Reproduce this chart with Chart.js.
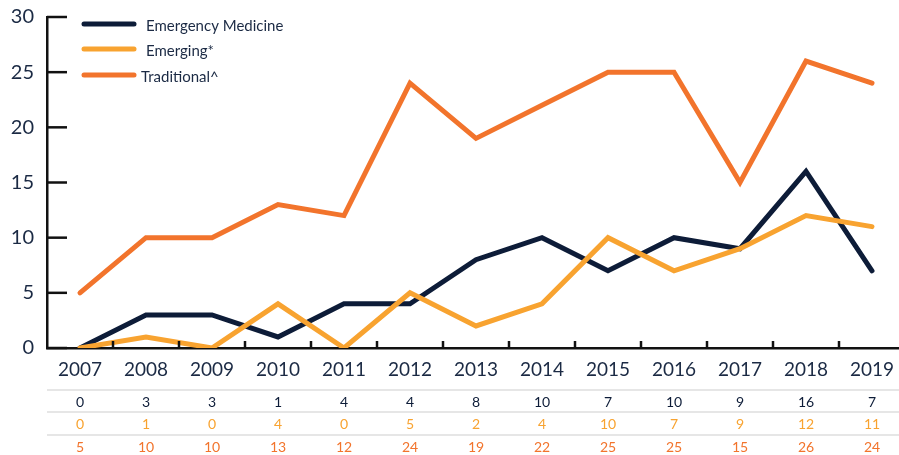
<!DOCTYPE html>
<html>
<head>
<meta charset="utf-8">
<script src="https://cdn.jsdelivr.net/npm/chart.js@4"></script>
<style>
  html, body { margin: 0; padding: 0; background: #fff; overflow: hidden; }
  #wrap { width: 905px; height: 455px; }
</style>
</head>
<body>
<div id="wrap"><canvas id="myChart" width="905" height="455"></canvas></div>
<script>
var years = ['2007', '2008', '2009', '2010', '2011', '2012', '2013', '2014', '2015', '2016', '2017', '2018', '2019']
var emergencyMedicine = [0, 3, 3, 1, 4, 4, 8, 10, 7, 10, 9, 16, 7]
var emerging = [0, 1, 0, 4, 0, 5, 2, 4, 10, 7, 9, 12, 11]
var traditional = [5, 10, 10, 13, 12, 24, 19, 22, 25, 25, 15, 26, 24]
var yTicks = [0, 5, 10, 15, 20, 25, 30]

var navy = '#0d1c38'
var yellow = '#f8a330'
var orange = '#f2742c'
var textColor = '#1b2a44'
var fontFamily = 'Lato, "Open Sans", sans-serif'

// ticks drawn inward, data table and legend
var extras = {
    id: 'extras',
    afterDraw: function(chart) {
        var ctx = chart.ctx
        var xs = chart.scales.x
        var ys = chart.scales.y
        var area = chart.chartArea
        ctx.save()
        ctx.strokeStyle = '#111'
        ctx.lineWidth = 2.5
        // y ticks pointing right
        yTicks.forEach(function(v) {
            var py = ys.getPixelForValue(v)
            ctx.beginPath()
            ctx.moveTo(area.left, py)
            ctx.lineTo(area.left + 20, py)
            ctx.stroke()
        })
        // x ticks between categories pointing up
        for (var i = 1; i < years.length; i++) {
            var px = (xs.getPixelForValue(i - 1) + xs.getPixelForValue(i)) / 2
            ctx.beginPath()
            ctx.moveTo(px, area.bottom)
            ctx.lineTo(px, area.bottom - 7)
            ctx.stroke()
        }

        // table separators
        ctx.strokeStyle = '#e6e6e6'
        ctx.lineWidth = 2;
        [390, 412, 435].forEach(function(y) {
            ctx.beginPath()
            ctx.moveTo(area.left, y)
            ctx.lineTo(chart.width, y)
            ctx.stroke()
        })

        // table values
        var rows = [
            {data: emergencyMedicine, color: navy, y: 402},
            {data: emerging, color: yellow, y: 424},
            {data: traditional, color: orange, y: 447}
        ]
        ctx.font = '14px ' + fontFamily
        ctx.textAlign = 'center'
        ctx.textBaseline = 'middle'
        rows.forEach(function(r) {
            ctx.fillStyle = r.color
            r.data.forEach(function(v, i) {
                ctx.fillText(String(v), xs.getPixelForValue(i), r.y)
            })
        })

        // legend
        var legend = [
            {label: chart.data.datasets[2].label, color: navy, y: 24, tx: 146},
            {label: chart.data.datasets[1].label, color: yellow, y: 49, tx: 146},
            {label: chart.data.datasets[0].label, color: orange, y: 75, tx: 141}
        ]
        ctx.lineCap = 'round'
        ctx.lineWidth = 5
        ctx.font = '15px ' + fontFamily
        ctx.textAlign = 'left'
        legend.forEach(function(l) {
            ctx.strokeStyle = l.color
            ctx.beginPath()
            ctx.moveTo(84, l.y)
            ctx.lineTo(134, l.y)
            ctx.stroke()
            ctx.fillStyle = textColor
            ctx.fillText(l.label, l.tx, l.y + 2)
        })
        ctx.restore()
    }
}

var ctx = document.getElementById('myChart').getContext('2d')

var myChart = new Chart(ctx, {
    type: 'line',
    data: {
        labels: years,
        datasets: [
            {label: 'Traditional^', data: traditional, borderColor: orange},
            {label: 'Emerging*', data: emerging, borderColor: yellow},
            {label: 'Emergency Medicine', data: emergencyMedicine, borderColor: navy}
        ]
    },
    options: {
        responsive: false,
        animation: false,
        layout: {padding: {top: 17, right: 0, left: 0, bottom: 0}},
        datasets: {
            line: {
                borderWidth: 5,
                pointRadius: 0,
                pointHoverRadius: 0,
                tension: 0,
                borderCapStyle: 'round',
                fill: false
            }
        },
        plugins: {
            legend: {display: false},
            tooltip: {enabled: false}
        },
        scales: {
            x: {
                offset: true,
                grid: {display: true, offset: true, drawOnChartArea: false, drawTicks: false},
                border: {display: true, color: '#111', width: 2.5},
                ticks: {color: textColor, font: {family: fontFamily, size: 19}, padding: 10, maxRotation: 0, autoSkip: false},
                afterFit: function(scale) { scale.height = 107 }
            },
            y: {
                min: 0,
                max: 30,
                afterBuildTicks: function(scale) {
                    scale.ticks = yTicks.map(function(v) { return {value: v} })
                },
                grid: {display: true, drawOnChartArea: false, drawTicks: false},
                border: {display: true, color: '#111', width: 2.5},
                ticks: {color: textColor, font: {family: fontFamily, size: 20}, padding: 13},
                afterFit: function(scale) {
                    scale.width = 47
                    scale.paddingTop = 0
                    scale.paddingBottom = 0
                }
            }
        }
    },
    plugins: [extras]
})
</script>
</body>
</html>
